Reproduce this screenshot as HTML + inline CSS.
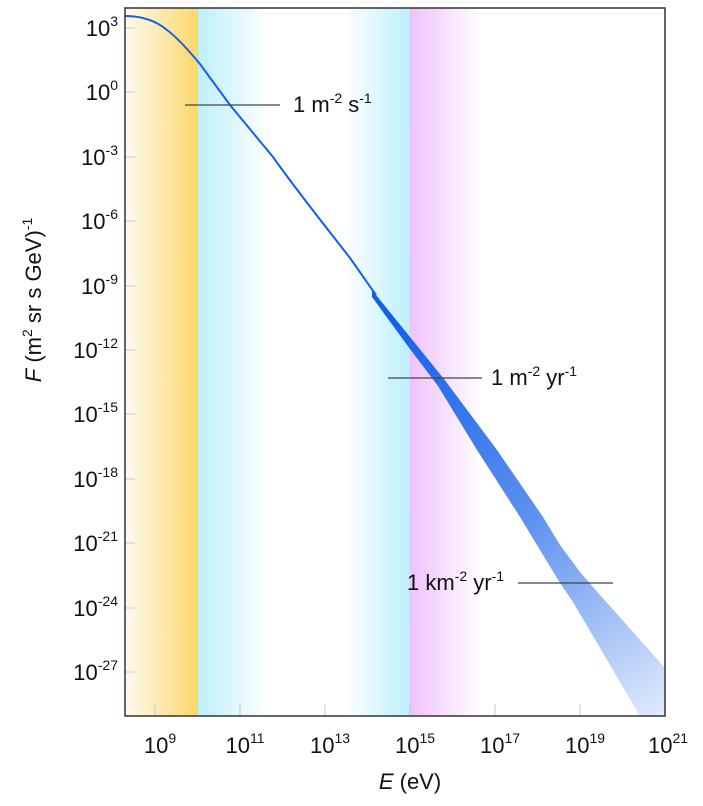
<!DOCTYPE html>
<html><head><meta charset="utf-8"><style>
html,body{margin:0;padding:0;background:#fff}
svg{display:block;font-family:"Liberation Sans",sans-serif}
</style></head><body>
<svg width="703" height="806" viewBox="0 0 703 806" xmlns="http://www.w3.org/2000/svg">
<defs>
<linearGradient id="yel" x1="0" x2="1" y1="0" y2="0"><stop offset="0" stop-color="#fffaf0"/><stop offset="1" stop-color="#fbd86a"/></linearGradient>
<linearGradient id="cy1" x1="0" x2="1" y1="0" y2="0"><stop offset="0" stop-color="#bdeffb"/><stop offset="1" stop-color="#ffffff"/></linearGradient>
<linearGradient id="cy2" x1="0" x2="1" y1="0" y2="0"><stop offset="0" stop-color="#ffffff"/><stop offset="1" stop-color="#bdeffb"/></linearGradient>
<linearGradient id="mag" x1="0" x2="1" y1="0" y2="0"><stop offset="0" stop-color="#f0c2fb"/><stop offset="1" stop-color="#ffffff"/></linearGradient>
<linearGradient id="band" gradientUnits="userSpaceOnUse" x1="400" y1="320" x2="665" y2="716"><stop offset="0" stop-color="#1560ea"/><stop offset="0.5" stop-color="#5d91ef"/><stop offset="1" stop-color="#e2ebfb"/></linearGradient>
<clipPath id="pc"><rect x="125" y="8" width="540" height="708"/></clipPath>
</defs>
<rect x="125" y="8" width="73" height="708" fill="url(#yel)"/>
<rect x="198" y="8" width="72" height="708" fill="url(#cy1)"/>
<rect x="343" y="8" width="67" height="708" fill="url(#cy2)"/>
<rect x="410" y="8" width="72" height="708" fill="url(#mag)"/>
<g stroke="#c8c8c8" stroke-width="1">
<line x1="155" y1="716" x2="155" y2="704"/><line x1="240" y1="716" x2="240" y2="704"/><line x1="325" y1="716" x2="325" y2="704"/><line x1="410" y1="716" x2="410" y2="704"/><line x1="495" y1="716" x2="495" y2="704"/><line x1="580" y1="716" x2="580" y2="704"/>
<line x1="125" y1="28" x2="135" y2="28"/><line x1="125" y1="92" x2="135" y2="92"/><line x1="125" y1="157" x2="135" y2="157"/><line x1="125" y1="221" x2="135" y2="221"/><line x1="125" y1="286" x2="135" y2="286"/><line x1="125" y1="350" x2="135" y2="350"/><line x1="125" y1="414" x2="135" y2="414"/><line x1="125" y1="479" x2="135" y2="479"/><line x1="125" y1="543" x2="135" y2="543"/><line x1="125" y1="608" x2="135" y2="608"/><line x1="125" y1="672" x2="135" y2="672"/>
</g>
<g clip-path="url(#pc)">
<polygon fill="url(#band)" points="372,290 410,337 444,379 497,450 543,517 560,545 580,572 600,595 665,668 665,740 640,716 573,602 560,583 520,517 477,450 438,386 410,349 372,297"/>
<path d="M125,16 C140,16 155,20 167,30 C178,38 190,52 200,64 L230,105 L273,157 C300,195 330,232 350,258 C360,272 368,284 376,295" fill="none" stroke="#1560ea" stroke-width="2"/>
</g>
<rect x="125" y="8" width="540" height="708" fill="none" stroke="#333" stroke-width="1.5"/>
<g stroke="#444" stroke-width="1.2">
<line x1="185" y1="105" x2="280" y2="105"/>
<line x1="388" y1="378" x2="482" y2="378"/>
<line x1="518" y1="583" x2="613" y2="583"/>
</g>
<g font-size="22" fill="#111">
<text x="293" y="112">1 m<tspan font-size="14" dy="-9">-2</tspan><tspan dy="9"> s</tspan><tspan font-size="14" dy="-9">-1</tspan></text>
<text x="491" y="385">1 m<tspan font-size="14" dy="-9">-2</tspan><tspan dy="9"> yr</tspan><tspan font-size="14" dy="-9">-1</tspan></text>
<text x="407" y="590">1 km<tspan font-size="14" dy="-9">-2</tspan><tspan dy="9"> yr</tspan><tspan font-size="14" dy="-9">-1</tspan></text>
</g>
<g font-size="22" fill="#111" text-anchor="end">
<text x="118" y="36">10<tspan font-size="14" dy="-10">3</tspan></text>
<text x="118" y="100">10<tspan font-size="14" dy="-10">0</tspan></text>
<text x="118" y="165">10<tspan font-size="14" dy="-10">-3</tspan></text>
<text x="118" y="229">10<tspan font-size="14" dy="-10">-6</tspan></text>
<text x="118" y="294">10<tspan font-size="14" dy="-10">-9</tspan></text>
<text x="118" y="358">10<tspan font-size="14" dy="-10">-12</tspan></text>
<text x="118" y="422">10<tspan font-size="14" dy="-10">-15</tspan></text>
<text x="118" y="487">10<tspan font-size="14" dy="-10">-18</tspan></text>
<text x="118" y="551">10<tspan font-size="14" dy="-10">-21</tspan></text>
<text x="118" y="616">10<tspan font-size="14" dy="-10">-24</tspan></text>
<text x="118" y="680">10<tspan font-size="14" dy="-10">-27</tspan></text>
</g>
<g font-size="22" fill="#111" text-anchor="middle">
<text x="160" y="753">10<tspan font-size="14" dy="-10">9</tspan></text>
<text x="245" y="753">10<tspan font-size="14" dy="-10">11</tspan></text>
<text x="330" y="753">10<tspan font-size="14" dy="-10">13</tspan></text>
<text x="415" y="753">10<tspan font-size="14" dy="-10">15</tspan></text>
<text x="500" y="753">10<tspan font-size="14" dy="-10">17</tspan></text>
<text x="585" y="753">10<tspan font-size="14" dy="-10">19</tspan></text>
<text x="668" y="753">10<tspan font-size="14" dy="-10">21</tspan></text>
<text x="410" y="789"><tspan font-style="italic">E</tspan> (eV)</text>
</g>
<text transform="translate(41,300) rotate(-90)" font-size="22" fill="#111" text-anchor="middle"><tspan font-style="italic">F</tspan> (m<tspan font-size="14" dy="-9">2</tspan><tspan dy="9"> sr s GeV)</tspan><tspan font-size="14" dy="-9">-1</tspan></text>
</svg>
</body></html>
